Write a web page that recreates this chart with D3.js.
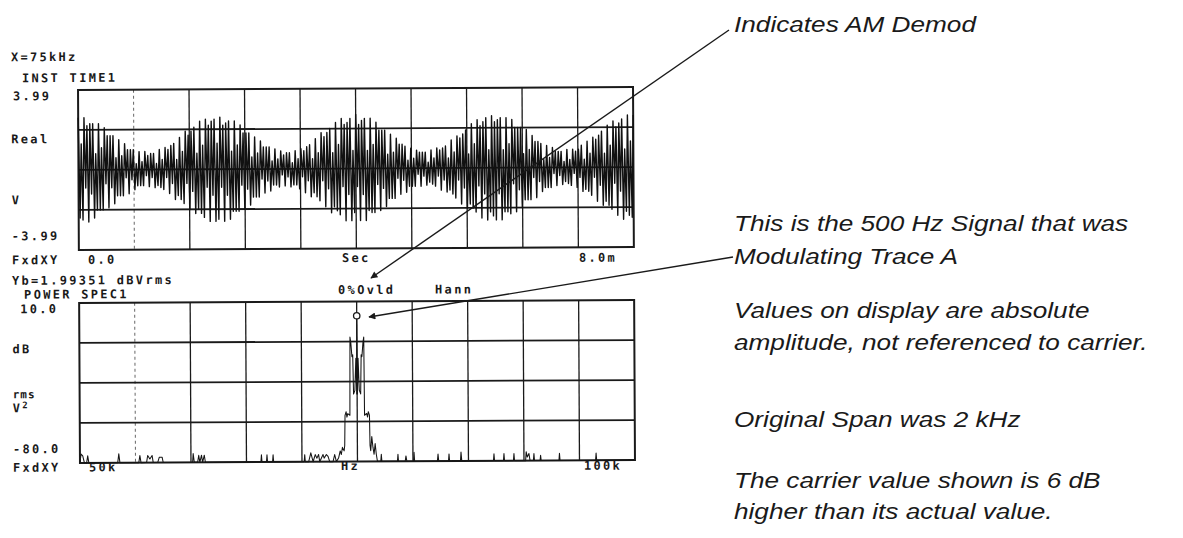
<!DOCTYPE html>
<html>
<head>
<meta charset="utf-8">
<script src="https://cdn.jsdelivr.net/npm/d3@7"></script>
<style>
  html, body { margin: 0; padding: 0; background: #fff; }
  svg { display: block; }
  .hp { font-family: "DejaVu Sans Mono", monospace; font-size: 12px; font-weight: bold; letter-spacing: 2.3px; fill: #1a1a1a; }
  .note { font-family: "Liberation Sans", Arial, sans-serif; font-style: italic; font-size: 22px; fill: #1a1a1a; }
</style>
</head>
<body>
<svg id="chart" width="1183" height="538"></svg>
<script>
// ---------- trace A: instantaneous time record (V), 0 .. 8 ms ----------
const timeSpanMs = [0, 8.0];
const timeVoltRange = [-3.99, 3.99];
const instTimeVolts = [
  // 0 - 2 ms
  2.6,-2.4,1.3,-2.5,2.6,-0.9,2.2,-2.6,2.3,-1.2,2.3,-2.4,0.8,-2.0,2.3,-2.0,
  1.1,-2.0,2.1,-0.7,1.7,-1.9,1.7,-0.9,1.7,-1.7,0.6,-1.3,1.5,-1.3,0.7,-1.3,
  1.3,-0.4,1.0,-1.2,1.0,-0.5,1.0,-1.0,0.3,-0.8,0.9,-0.8,0.4,-0.8,0.9,-0.3,
  0.7,-0.85,0.8,-0.4,0.8,-0.9,0.3,-0.8,1.0,-0.9,0.5,-1.0,1.1,-0.4,1.0,-1.2,
  1.2,-0.7,1.3,-1.5,0.5,-1.3,1.6,-1.5,0.9,-1.7,1.9,-0.7,1.7,-2.0,1.9,-1.1,
  2.1,-2.2,0.8,-2.0,2.4,-2.2,1.2,-2.4,2.5,-0.9,2.2,-2.6,2.4,-1.3,2.5,-2.6,
  // 2 - 4 ms
  1.3,-2.5,2.6,-0.9,2.2,-2.6,2.3,-1.3,2.4,-2.5,0.9,-2.1,2.4,-2.1,1.2,-2.1,
  2.2,-0.8,1.8,-2.0,1.8,-1.0,1.8,-1.8,0.6,-1.4,1.6,-1.4,0.8,-1.4,1.4,-0.5,
  1.1,-1.2,1.1,-0.6,1.1,-1.1,0.4,-0.8,1.0,-0.8,0.5,-0.9,0.9,-0.3,0.7,-0.85,
  0.8,-0.4,0.8,-0.9,0.3,-0.8,0.9,-0.8,0.5,-1.0,1.0,-0.4,0.9,-1.2,1.1,-0.6,
  1.2,-1.4,0.5,-1.2,1.5,-1.4,0.8,-1.6,1.8,-0.6,1.6,-1.9,1.8,-1.0,2.0,-2.2,
  0.8,-1.9,2.3,-2.1,1.2,-2.3,2.5,-0.9,2.2,-2.6,2.3,-1.3,2.5,-2.6,0.9,-2.2,
  // 4 - 6 ms
  2.7,-0.9,2.2,-2.6,2.4,-1.3,2.5,-2.6,0.9,-2.1,2.5,-2.2,1.2,-2.2,2.3,-0.8,
  1.9,-2.1,1.9,-1.0,1.9,-1.9,0.7,-1.5,1.7,-1.5,0.8,-1.5,1.5,-0.5,1.2,-1.3,
  1.2,-0.6,1.1,-1.2,0.4,-0.9,1.0,-0.9,0.5,-0.9,0.9,-0.3,0.8,-0.9,0.8,-0.4,
  0.8,-0.85,0.3,-0.7,0.9,-0.8,0.5,-0.9,1.0,-0.4,0.9,-1.1,1.0,-0.6,1.1,-1.2,
  0.5,-1.1,1.4,-1.3,0.8,-1.5,1.6,-0.6,1.5,-1.8,1.7,-1.0,1.9,-2.0,0.7,-1.8,
  2.2,-2.0,1.2,-2.2,2.4,-0.9,2.1,-2.5,2.3,-1.3,2.5,-2.6,0.9,-2.2,2.6,-2.4,
  // 6 - 8 ms
  2.3,-2.6,2.4,-1.3,2.5,-2.6,0.9,-2.2,2.5,-2.2,1.2,-2.3,2.4,-0.8,2.0,-2.2,
  2.0,-1.1,2.0,-2.0,0.7,-1.6,1.9,-1.6,0.9,-1.6,1.6,-0.5,1.3,-1.5,1.3,-0.7,
  1.2,-1.2,0.4,-1.0,1.1,-1.0,0.5,-1.0,1.0,-0.3,0.8,-0.9,0.8,-0.4,0.8,-0.85,
  0.3,-0.7,0.9,-0.8,0.4,-0.9,0.9,-0.3,0.8,-1.0,0.9,-0.5,1.1,-1.2,0.4,-1.1,
  1.3,-1.2,0.7,-1.4,1.5,-0.5,1.4,-1.7,1.6,-0.9,1.8,-1.9,0.7,-1.7,2.1,-1.9,
  1.1,-2.1,2.3,-0.8,2.0,-2.4,2.2,-1.2,2.4,-2.6,0.9,-2.2,2.6,-2.4,1.3,-2.5,
  2.6
];

// ---------- trace B: power spectrum (dB rms V^2), 50 .. 100 kHz ----------
const specSpanKHz = [50, 100];
const specDbRange = [-80, 10];
const specFreqKHz = [
  50.0,50.1,50.25,50.4,50.6,50.7,50.8,53.4,53.5,53.6,55.3,55.4,55.5,56.0,56.1,56.3,56.5,56.6,
  57.0,57.15,57.4,57.5,60.15,60.2,60.3,60.6,60.7,60.8,60.95,61.05,61.2,61.3,
  66.3,66.35,66.4,66.8,66.85,66.9,67.35,67.4,67.45,
  70.2,70.25,70.3,70.6,70.8,71.0,71.2,71.35,71.5,71.6,71.9,72.0,72.2,72.35,72.5,72.8,72.95,73.1,
  73.3,73.45,73.55,73.65,73.8,73.86,73.9,74.0,74.07,74.15,74.34,
  74.38,74.45,74.55,74.62,74.68,74.8,74.9,74.97,75.0,75.03,75.1,75.2,75.32,75.38,75.45,75.55,75.62,
  75.66,75.85,75.93,76.0,76.1,76.14,76.2,76.3,76.4,76.5,76.6,76.7,76.8,
  77.1,77.15,77.2,78.6,78.65,78.7,79.3,79.37,79.45,80.05,80.1,80.15,
  82.2,82.26,82.32,83.2,83.25,83.3,84.28,84.33,84.4,
  87.25,87.3,87.35,88.15,88.2,88.25,89.05,89.1,89.15,90.15,90.2,90.3,90.45,90.55,
  90.85,90.9,90.95,91.45,91.5,91.55,93.15,93.2,93.25,96.45,96.5,96.55,100.0
];
const specDb = [
  -80,-75,-76,-80,-80,-76,-80,-80,-75,-80,-80,-76,-80,-80,-76,-78,-76,-80,
  -80,-77,-77,-80,-80,-75,-80,-80,-76,-80,-76,-80,-76,-80,
  -80,-76,-80,-80,-76,-80,-80,-76,-80,
  -80,-76,-80,-80,-75,-80,-76,-78,-76,-80,-76,-78,-76,-77,-80,-80,-76,-80,
  -78,-74,-76,-72,-74,-71,-54,-52,-55,-53,-54,
  -10,-13,-21,-20,-42,-40,-22,-42,1.99,-42,-22,-40,-42,-20,-21,-13,-10,
  -54,-53,-55,-52,-54,-71,-74,-66,-72,-76,-70,-76,-80,
  -80,-76,-80,-80,-76,-80,-80,-77,-80,-80,-75,-80,
  -80,-76,-80,-80,-76,-80,-80,-75,-80,
  -80,-76,-80,-80,-76,-80,-80,-76,-80,-80,-75,-78,-76,-80,
  -80,-76,-80,-80,-77,-80,-80,-76,-80,-80,-76,-80,-80
];
const markerKHz = 75;
const markerDb = 1.99351;

// ---------- screen texts ----------
const topHeader = ["X=75kHz", "INST TIME1"];
const topYLabels = ["3.99", "Real", "V", "-3.99"];
const topXLabels = ["FxdXY", "0.0", "Sec", "8.0m"];
const botHeader = ["Yb=1.99351 dBVrms", "POWER SPEC1", "0%Ovld", "Hann"];
const botYLabels = ["10.0", "dB", "rms", "V", "2", "-80.0"];
const botXLabels = ["FxdXY", "50k", "Hz", "100k"];
const notes = [
  "Indicates AM Demod",
  "This is the 500 Hz Signal that was",
  "Modulating Trace A",
  "Values on display are absolute",
  "amplitude, not referenced to carrier.",
  "Original Span was 2 kHz",
  "The carrier value shown is 6 dB",
  "higher than its actual value."
];

// ---------- drawing ----------
const svg = d3.select("#chart");
const ink = "#1a1a1a";

svg.append("defs").append("marker")
  .attr("id", "arrow").attr("viewBox", "0 0 10 10")
  .attr("refX", 9).attr("refY", 5)
  .attr("markerWidth", 6).attr("markerHeight", 5)
  .attr("orient", "auto")
  .append("path").attr("d", "M0,0 L10,5 L0,10 z").attr("fill", ink);

// analyzer screen (slightly tilted as printed)
const screen = svg.append("g").attr("transform", "rotate(-0.3, 356, 275)");

const L = 79, R = 634;
const panels = {
  time: { top: 88.5, bottom: 248.5 },
  spec: { top: 301.5, bottom: 461.5 }
};

function drawGrid(g, p) {
  const xs = d3.range(11).map(i => L + i * (R - L) / 10);
  const ys = d3.range(5).map(i => p.top + i * (p.bottom - p.top) / 4);
  // vertical divisions
  g.selectAll(null).data(xs.slice(1, -1)).join("line")
    .attr("x1", d => d).attr("x2", d => d)
    .attr("y1", p.top).attr("y2", p.bottom)
    .attr("stroke", (d, i) => i === 0 ? "#666" : ink)
    .attr("stroke-width", (d, i) => i === 0 ? 1 : 1.3)
    .attr("stroke-dasharray", (d, i) => i === 0 ? "3,3" : null);
  // horizontal divisions
  g.selectAll(null).data(ys.slice(1, -1)).join("line")
    .attr("x1", L).attr("x2", R)
    .attr("y1", d => d).attr("y2", d => d)
    .attr("stroke", ink).attr("stroke-width", 1.8);
  // frame
  g.append("rect")
    .attr("x", L).attr("y", p.top)
    .attr("width", R - L).attr("height", p.bottom - p.top)
    .attr("fill", "none").attr("stroke", ink).attr("stroke-width", 2);
}

// --- trace A ---
const gTime = screen.append("g");
drawGrid(gTime, panels.time);
const xTime = d3.scaleLinear().domain(timeSpanMs).range([L, R]);
const yTime = d3.scaleLinear().domain(timeVoltRange).range([panels.time.bottom, panels.time.top]);
const dt = (timeSpanMs[1] - timeSpanMs[0]) / (instTimeVolts.length - 1);
gTime.append("path")
  .datum(instTimeVolts)
  .attr("fill", "none").attr("stroke", "#111").attr("stroke-width", 1.4)
  .attr("stroke-linejoin", "round")
  .attr("d", d3.line().x((v, i) => xTime(timeSpanMs[0] + i * dt)).y(v => yTime(v)));

// --- trace B ---
const gSpec = screen.append("g");
drawGrid(gSpec, panels.spec);
const xSpec = d3.scaleLinear().domain(specSpanKHz).range([L, R]);
const ySpec = d3.scaleLinear().domain(specDbRange).range([panels.spec.bottom, panels.spec.top]);
gSpec.append("path")
  .datum(specFreqKHz.map((f, i) => [f, specDb[i]]))
  .attr("fill", "none").attr("stroke", "#151515").attr("stroke-width", 1.05)
  .attr("stroke-linejoin", "round")
  .attr("d", d3.line().x(d => xSpec(d[0])).y(d => ySpec(d[1])));
gSpec.append("circle")
  .attr("cx", xSpec(markerKHz)).attr("cy", ySpec(markerDb)).attr("r", 3.2)
  .attr("fill", "#fff").attr("stroke", ink).attr("stroke-width", 1.3);

// --- screen annotations ---
function hp(x, y, t) {
  return screen.append("text").attr("class", "hp").attr("x", x).attr("y", y).text(t);
}
hp(12, 59.5, topHeader[0]);
hp(23, 80.5, topHeader[1]);
hp(14, 98.5, topYLabels[0]);
hp(12, 141.5, topYLabels[1]);
hp(12, 202.5, topYLabels[2]);
hp(12, 238.5, topYLabels[3]);
hp(12, 262.5, topXLabels[0]);
hp(88, 262.5, topXLabels[1]);
hp(342, 262, topXLabels[2]);
hp(579, 263, topXLabels[3]);

hp(12, 283, botHeader[0]);
hp(24, 297, botHeader[1]);
hp(338, 294, botHeader[2]);
hp(435, 294, botHeader[3]);
hp(20, 311.5, botYLabels[0]);
hp(12, 351.5, botYLabels[1]);
hp(12, 396.5, botYLabels[2]).style("font-size", "11px").style("letter-spacing", "1px");
const v2 = hp(12, 410.5, botYLabels[3]);
v2.append("tspan").attr("dy", -4).style("font-size", "9px").text(botYLabels[4]);
hp(12, 451.5, botYLabels[5]);
hp(12, 470, botXLabels[0]);
hp(88, 470, botXLabels[1]);
hp(340, 470, botXLabels[2]);
hp(583, 471, botXLabels[3]);

// ---------- explanatory notes with leader lines ----------
const noteX = 734;
const noteBaselines = [32, 231, 264, 318, 350, 427, 488, 519];
svg.selectAll("text.note").data(notes).join("text")
  .attr("class", "note")
  .attr("transform", (d, i) => `translate(${noteX},${noteBaselines[i]}) scale(1.19,1)`)
  .text(d => d);

const leaders = [
  { from: [729, 30], to: [371, 278] },
  { from: [733, 257], to: [369, 317] }
];
svg.selectAll("line.leader").data(leaders).join("line")
  .attr("class", "leader")
  .attr("x1", d => d.from[0]).attr("y1", d => d.from[1])
  .attr("x2", d => d.to[0]).attr("y2", d => d.to[1])
  .attr("stroke", ink).attr("stroke-width", 1.4)
  .attr("marker-end", "url(#arrow)");
</script>
</body>
</html>
